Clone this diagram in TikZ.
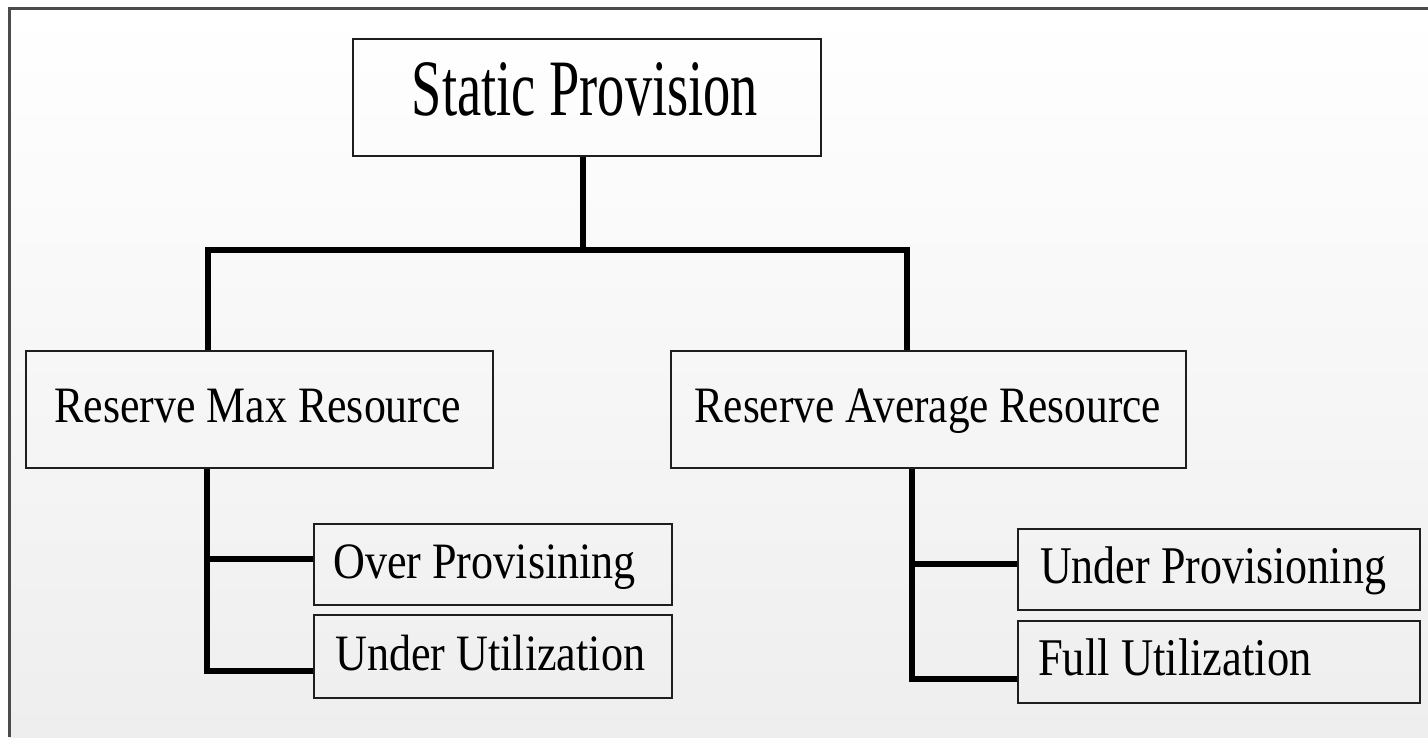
\documentclass[tikz,border=0pt]{standalone}
\usepackage{fontspec}
\setmainfont{Liberation Serif}
\usepackage{graphicx}
\definecolor{bgbot}{RGB}{238,238,238}
\definecolor{framec}{RGB}{75,75,75}
\definecolor{boxc}{RGB}{30,30,30}
\tikzset{
  box/.style={draw=boxc, line width=2pt, inner sep=0pt, anchor=north west},
  lbl/.style={inner sep=0pt, text=black},
  conn/.style={draw=black, line width=5.5pt, line join=miter},
}
\newcommand{\lab}[3]{\scalebox{#1}[1]{\fontsize{#2}{#2}\selectfont #3}}
\begin{document}
\begin{tikzpicture}[x=1pt,y=-1pt]
\useasboundingbox (0,0) rectangle (1428,737);
\fill[white] (0,0) rectangle (1428,737);
\shade[top color=white, bottom color=bgbot] (9,8) rectangle (1428,737);
\draw[framec, line width=3pt] (9,737) -- (9,8) -- (1428,8);

% boxes
\node[box, minimum width=468pt, minimum height=117pt] (sp) at (352,38) {};
\node[box, minimum width=467pt, minimum height=117pt] (rmax) at (25,350) {};
\node[box, minimum width=515pt, minimum height=117pt] (ravg) at (670,350) {};
\node[box, minimum width=358pt, minimum height=81pt] (op) at (313,523) {};
\node[box, minimum width=358pt, minimum height=83pt] (uu) at (313,614) {};
\node[box, minimum width=402pt, minimum height=81pt] (up) at (1017,528) {};
\node[box, minimum width=402pt, minimum height=82pt] (fu) at (1017,620) {};

% labels
\node[lbl, anchor=base] (tsp) at (585,115) {\lab{0.68}{80}{Static Provision}};
\node[lbl, anchor=base] (trmax) at (258,422) {\lab{0.86}{51}{Reserve Max Resource}};
\node[lbl, anchor=base] (travg) at (928,422) {\lab{0.85}{51}{Reserve Average Resource}};
\node[lbl, anchor=base west] (top) at (333,578) {\lab{0.865}{51}{Over Provisining}};
\node[lbl, anchor=base west] (tuu) at (335,670) {\lab{0.865}{51}{Under Utilization}};
\node[lbl, anchor=base west] (tup) at (1040,583) {\lab{0.83}{53}{Under Provisioning}};
\node[lbl, anchor=base west] (tfu) at (1038,675) {\lab{0.84}{53}{Full Utilization}};

% connectors
\coordinate (barL) at (208,250);
\coordinate (barR) at (907,250);
\coordinate (lvx) at (207,466);
\coordinate (rvx) at (912,466);
\draw[conn] (sp.south -| 583,0) -- (583,250);
\draw[conn] (rmax.north -| barL) -- (barL) -- (barR) -- (ravg.north -| barR);
\draw[conn] (rmax.south -| lvx) |- ([yshift=-14.5pt]uu.west);
\draw[conn] ([yshift=5.5pt]op.west) -- ++(-106,0);
\draw[conn] (ravg.south -| rvx) |- ([yshift=-17pt]fu.west);
\draw[conn] ([yshift=5.5pt]up.west) -- ++(-105,0);
\end{tikzpicture}
\end{document}
